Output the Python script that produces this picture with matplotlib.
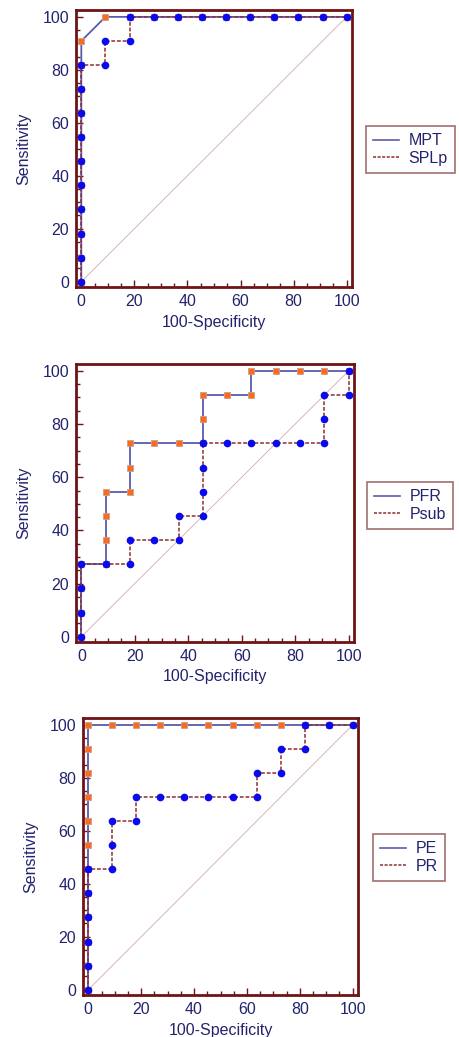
import matplotlib
matplotlib.use("Agg")
import matplotlib.pyplot as plt
from matplotlib.lines import Line2D
from matplotlib.ticker import MultipleLocator

plt.rcParams['font.family'] = ['Liberation Sans', 'DejaVu Sans']

s = 100 / 11  # one case step

# panel 1
mpt_x = [0] * 11 + [1 * s, 2 * s, 3 * s, 4 * s, 5 * s, 6 * s, 7 * s, 8 * s, 9 * s, 10 * s, 100]
mpt_y = [0, 1 * s, 2 * s, 3 * s, 4 * s, 5 * s, 6 * s, 7 * s, 8 * s, 9 * s, 10 * s] + [100] * 11
splp_x = [0] * 10 + [1 * s, 1 * s, 2 * s, 2 * s, 3 * s, 4 * s, 5 * s, 6 * s, 7 * s, 8 * s, 9 * s, 10 * s, 100]
splp_y = [0, 1 * s, 2 * s, 3 * s, 4 * s, 5 * s, 6 * s, 7 * s, 8 * s, 9 * s,
          9 * s, 10 * s, 10 * s] + [100] * 10

# panel 2
pfr_x = [0, 0, 0, 0, 1 * s, 1 * s, 1 * s, 1 * s, 2 * s, 2 * s, 2 * s, 3 * s, 4 * s, 5 * s, 5 * s, 5 * s,
         6 * s, 7 * s, 7 * s, 8 * s, 9 * s, 10 * s, 100]
pfr_y = [0, 1 * s, 2 * s, 3 * s, 3 * s, 4 * s, 5 * s, 6 * s, 6 * s, 7 * s, 8 * s, 8 * s, 8 * s, 8 * s, 9 * s, 10 * s,
         10 * s, 10 * s, 100, 100, 100, 100, 100]
psub_x = [0, 0, 0, 0, 1 * s, 2 * s, 2 * s, 3 * s, 4 * s, 4 * s, 5 * s, 5 * s, 5 * s, 5 * s,
          6 * s, 7 * s, 8 * s, 9 * s, 10 * s, 10 * s, 10 * s, 100, 100]
psub_y = [0, 1 * s, 2 * s, 3 * s, 3 * s, 3 * s, 4 * s, 4 * s, 4 * s, 5 * s, 5 * s, 6 * s, 7 * s, 8 * s,
          8 * s, 8 * s, 8 * s, 8 * s, 8 * s, 9 * s, 10 * s, 10 * s, 100]

# panel 3
pe_x = [0] * 12 + [1 * s, 2 * s, 3 * s, 4 * s, 5 * s, 6 * s, 7 * s, 8 * s, 9 * s, 10 * s, 100]
pe_y = [0, 1 * s, 2 * s, 3 * s, 4 * s, 5 * s, 6 * s, 7 * s, 8 * s, 9 * s, 10 * s, 100] + [100] * 11
pr_x = [0, 0, 0, 0, 0, 0, 1 * s, 1 * s, 1 * s, 2 * s, 2 * s, 3 * s, 4 * s, 5 * s, 6 * s, 7 * s, 7 * s,
        8 * s, 8 * s, 9 * s, 9 * s, 10 * s, 100]
pr_y = [0, 1 * s, 2 * s, 3 * s, 4 * s, 5 * s, 5 * s, 6 * s, 7 * s, 7 * s, 8 * s, 8 * s, 8 * s, 8 * s, 8 * s, 8 * s, 9 * s,
        9 * s, 10 * s, 10 * s, 100, 100, 100]

panels = [
    (mpt_x, mpt_y, splp_x, splp_y, "MPT", "SPLp"),
    (pfr_x, pfr_y, psub_x, psub_y, "PFR", "Psub"),
    (pe_x, pe_y, pr_x, pr_y, "PE", "PR"),
]

W, H = 459, 1037
# axes frames in pixels: left, top, right, bottom
frames = [(76, 10, 352, 287), (76, 364, 354, 642), (83, 718, 358, 995)]
legend_pos = [(366, 126), (367, 482), (373, 834)]

MAROON = "#6e1414"
NAVY = "#23236e"
SOLID = "#5b5bab"
DASHED = "#8e2f2f"

fig = plt.figure(figsize=(W / 100, H / 100), dpi=100)

for (x1, y1, x2, y2, n1, n2), (l, t, r, b), (lx, ly) in zip(panels, frames, legend_pos):
    ax = fig.add_axes([l / W, 1 - b / H, (r - l) / W, (b - t) / H])
    ax.plot([0, 100], [0, 100], color="#d4aaaa", lw=0.6, zorder=1)
    ax.plot(x1, y1, color=SOLID, lw=1.3, marker="s", ms=4.8, mfc="#ff6a1a",
            mec="#c8a090", mew=0.6, zorder=2)
    ax.plot(x2, y2, color=DASHED, lw=1.1, ls=(0, (2.5, 1.2)), marker="o", ms=4.5,
            mfc="#0a0af0", mec="#0a0af0", zorder=3, clip_on=False)
    ax.set_xlim(-2, 102)
    ax.set_ylim(-2, 102.6)
    ax.xaxis.set_major_locator(MultipleLocator(20))
    ax.yaxis.set_major_locator(MultipleLocator(20))
    ax.xaxis.set_minor_locator(MultipleLocator(5))
    ax.yaxis.set_minor_locator(MultipleLocator(5))
    ax.tick_params(which="both", direction="in", color=MAROON, labelcolor=NAVY, labelsize=11.5)
    ax.tick_params(which="major", length=5, width=1, pad=5)
    ax.tick_params(which="minor", length=3, width=1)
    for sp in ax.spines.values():
        sp.set_color(MAROON)
        sp.set_linewidth(2)
    ax.set_xlabel("100-Specificity", color=NAVY, fontsize=11.5, labelpad=4)
    ax.set_ylabel("Sensitivity", color=NAVY, fontsize=11.5, labelpad=8)

    handles = [Line2D([], [], color=SOLID, lw=1.2),
               Line2D([], [], color=DASHED, lw=1.1, ls=(0, (2, 1)))]
    leg = fig.legend(handles, [n1, n2], loc="upper left",
                     bbox_to_anchor=(lx / W, 1 - ly / H), frameon=True, fancybox=False,
                     fontsize=11.5, handlelength=1.6, handletextpad=0.6, labelspacing=0.15,
                     borderpad=0.45, borderaxespad=0)
    leg.get_frame().set_edgecolor("#8a4a4a")
    leg.get_frame().set_linewidth(1.2)
    for txt in leg.get_texts():
        txt.set_color(NAVY)

fig.savefig("out.png", dpi=100)
